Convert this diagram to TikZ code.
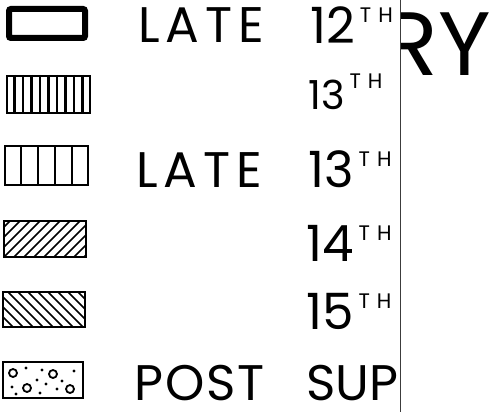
\documentclass[tikz,border=0pt]{standalone}
\usepackage{fontspec}
\setmainfont{Poppins}
\newfontfamily\spacedfont{Poppins}[LetterSpace=12]
\newfontfamily\postfont{Poppins}[LetterSpace=4]
\usepackage{tikz}
\usetikzlibrary{calc}
\definecolor{inkgray}{HTML}{3C3C3C}
\newcommand{\supth}{\hspace{5pt}\raisebox{21pt}{\fontsize{21}{21}\selectfont T\hspace{7pt}H}}
\tikzset{swatch/.style={rectangle,draw=black,line width=2pt,minimum width=82pt,
  minimum height=36pt,inner sep=0pt},
  hatch/.style={line width=1.5pt},
  legtext/.style={anchor=base west,inner sep=0pt,font=\fontsize{50}{50}\selectfont},
  seprule/.style={draw=inkgray,line width=1.6pt}}

\begin{document}
\begin{tikzpicture}[x=1pt,y=-1pt]
 \useasboundingbox (0,0) rectangle (490,412);
 % swatches
 \node[swatch,line width=6pt,rounded corners=2pt,minimum width=76pt,minimum height=29pt] (s1) at (47,23.5) {};
 \node[swatch,minimum width=83pt,minimum height=37pt] (s2) at (48.5,94.5) {};
 \foreach \i in {1,...,9}
  \draw[hatch,line width=2.2pt] ($(s2.north west)!\i/10!(s2.north east)$) -- ($(s2.south west)!\i/10!(s2.south east)$);
 \node[swatch,minimum width=83pt,minimum height=39pt] (s3) at (46.5,165.5) {};
 \foreach \i in {1,...,4}
  \draw[hatch] ($(s3.north west)!\i/5!(s3.north east)$) -- ($(s3.south west)!\i/5!(s3.south east)$);
 \node[swatch,minimum height=36pt,path picture={
   \foreach \k in {-4,...,9}
    \draw[hatch] ([xshift=\k*10pt]path picture bounding box.south west) -- ++(45:70pt);}] (s4) at (45,239) {};
 \node[swatch,minimum height=35pt,path picture={
   \foreach \k in {0,...,13}
    \draw[hatch] ([xshift=\k*10pt]path picture bounding box.south west) -- ++(135:70pt);}] (s5) at (44,309.5) {};
 \node[swatch,minimum width=80pt,minimum height=36pt] (s6) at (42.5,380) {};
 \foreach \p in {(13,373),(53,374),(27,388),(70,389)}
  \draw[line width=1.8pt] \p circle[radius=4pt];
 \foreach \p in {(26,368),(42,370),(74,371),(37,380),(46,384),(62,381),(12,387),(16,394),(40,393),(57,389)}
  \fill \p circle[radius=1.6pt];
 % labels, cut at the page edge
 \begin{scope}
  \clip (0,0) rectangle (400,412);
  \node[legtext,font=\fontsize{50}{50}\spacedfont] (late1) at (138,43) {LATE};
  \node[legtext] (n1) at (310,44) {12\supth};
  \node[legtext,font=\fontsize{40}{40}\selectfont] (n2) at (308,110) {13\supth};
  \node[legtext,font=\fontsize{50}{50}\spacedfont] (late3) at (136,187) {LATE};
  \node[legtext] (n3) at (308,187) {13\supth};
  \node[legtext] (n4) at (306,261) {14\supth};
  \node[legtext] (n5) at (306,329) {15\supth};
  \node[legtext,font=\fontsize{50}{50}\postfont] (post) at (134,400) {POST};
  \node[legtext] (sup) at (306,400) {SUP};
 \end{scope}
 \begin{scope}
  \clip (401,0) rectangle (490,412);
  \node[anchor=base east,inner sep=0pt,font=\fontsize{90}{90}\selectfont] (ry) at (491,75) {RY};
 \end{scope}
 \coordinate (ruletop) at (400.5,0);
 \coordinate (rulebot) at (400.5,412);
 \draw[seprule] (ruletop) -- (rulebot);
\end{tikzpicture}
\end{document}
